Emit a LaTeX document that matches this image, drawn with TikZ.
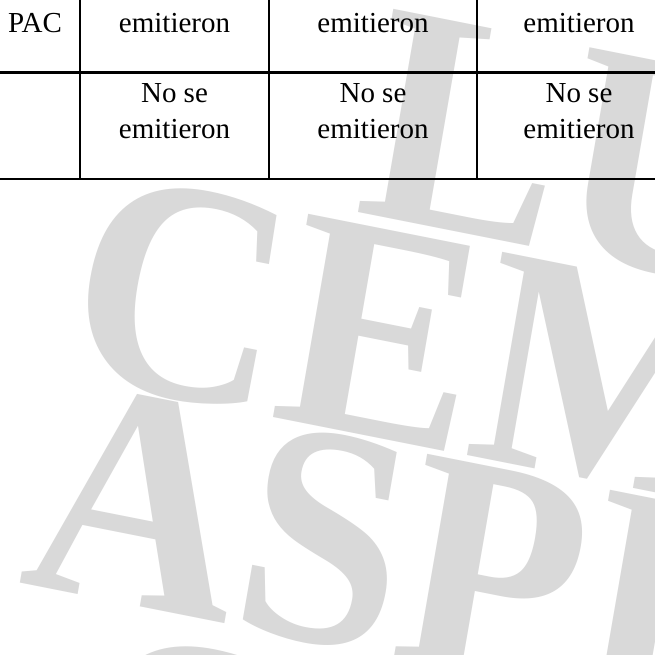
\documentclass[tikz,border=0pt]{standalone}
\usepackage{fontspec}
\setmainfont{Liberation Serif}
\usepackage{tikz}
\usetikzlibrary{calc}

\definecolor{wmgray}{HTML}{D9D9D9}

\begin{document}
\begin{tikzpicture}[x=1pt, y=1pt, line width=2.5pt,
    watermark/.style={anchor=base west, inner sep=0pt, text=wmgray,
      font=\fontsize{295}{295}\selectfont\bfseries, yscale=1.07, rotate=-10.5},
    cell/.style={anchor=base, inner sep=0pt, align=center,
      font=\fontsize{29}{36}\selectfont}]

            % Page
            \useasboundingbox (0,0) rectangle (655,-654);
            \clip (0,0) rectangle (655,-654);
            \fill[white] (0,0) rectangle (655,-654);

            % Watermark
            \node[watermark] (wmlu) at (352.5,-211) {LU};
            \node[watermark] (wmcem) at (58,-374.5) {CEM};
            \node[watermark] (wmaspi) at (16,-582.6) {ASPI};
            \node[watermark] (wmc) at (63,-832) {C};

            % Row rules
            \coordinate (midwest) at (0,-72.7);
            \coordinate (mideast) at ($(midwest)+(655,0)$);
            \coordinate (botwest) at (0,-179);
            \coordinate (boteast) at ($(botwest)+(655,0)$);
            \draw (midwest) -- (mideast);
            \draw (botwest) -- (boteast);

            % Column rules
            \coordinate (sepatop) at (80,0);
            \coordinate (sepbtop) at (269,0);
            \coordinate (sepctop) at (477,0);
            \draw (sepatop) -- ($(sepatop)+(0,-179)$);
            \draw (sepbtop) -- ($(sepbtop)+(0,-179)$);
            \draw (sepctop) -- ($(sepctop)+(0,-179)$);

            % Labels
            \node[cell, anchor=base west] (pac) at (7,-32) {PAC};
            \node[cell] (emita) at (174.5,-32) {emitieron};
            \node[cell] (emitb) at (373,-32) {emitieron};
            \node[cell] (emitc) at (579,-32) {emitieron};
            \node[cell] (nosea) at (174.5,-138) {No se\\emitieron};
            \node[cell] (noseb) at (373,-138) {No se\\emitieron};
            \node[cell] (nosec) at (579,-138) {No se\\emitieron};
            \end{tikzpicture}
\end{document}
